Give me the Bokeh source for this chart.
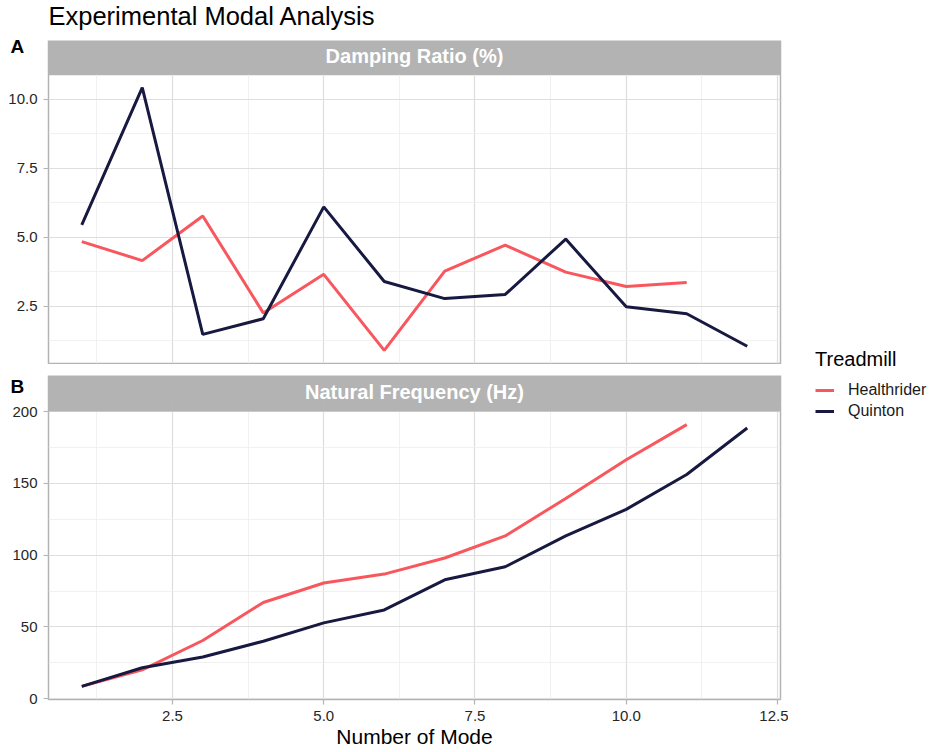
from bokeh.plotting import figure
from bokeh.models import Range1d, FixedTicker, PrintfTickFormatter, Legend, LegendItem
from bokeh.layouts import column, row
from bokeh.embed import file_html
from bokeh.resources import INLINE
from bokeh.core.properties import value

# ---------------- data ----------------
modes_healthrider = [1, 2, 3, 4, 5, 6, 7, 8, 9, 10, 11]
modes_quinton = [1, 2, 3, 4, 5, 6, 7, 8, 9, 10, 11, 12]
healthrider_damping = [4.84, 4.15, 5.77, 2.25, 3.65, 0.89, 3.77, 4.71, 3.73, 3.21, 3.35]
quinton_damping = [5.45, 10.43, 1.47, 2.04, 6.10, 3.39, 2.77, 2.92, 4.93, 2.47, 2.22, 1.04]
healthrider_freq = [8.5, 20.0, 40.5, 67.0, 80.6, 86.8, 98.0, 113.4, 139.5, 166.5, 191.0]
quinton_freq = [8.5, 21.5, 29.0, 40.0, 52.8, 61.8, 82.8, 91.9, 113.4, 131.9, 156.2, 188.6]
series_names = ["Healthrider", "Quinton"]
series_colors = ["#F8575D", "#171941"]
x_ticks = [2.5, 5.0, 7.5, 10.0, 12.5]
x_minor = [1.25, 3.75, 6.25, 8.75, 11.25]
damp_ticks = [2.5, 5.0, 7.5, 10.0]
damp_minor = [1.25, 3.75, 6.25, 8.75]
freq_ticks = [0, 50, 100, 150, 200]
freq_minor = [25, 75, 125, 175]

FONT = "Liberation Sans"
GRID = "#DEDEDE"
MINOR = "#EDEDED"
BORDER = "#B3B3B3"
TXT = "#262626"

LEFT_W = 788
FRAME_L = 48
FRAME_R = 8
FRAME_W = LEFT_W - FRAME_L - FRAME_R


def expand(vals):
    lo, hi = min(vals), max(vals)
    d = (hi - lo) * 0.05
    return lo - d, hi + d


x_lo, x_hi = expand(modes_healthrider + modes_quinton)
x_range = Range1d(x_lo, x_hi)


def no_align(fig):
    if "frame_align" in fig.properties():
        fig.frame_align = False


def header(height, strip_top, strip_text, strip_mid, tag, tag_mid, title=None):
    """Pixel-space header: panel tag, facet strip (and the page title)."""
    h = figure(width=LEFT_W, height=height, x_range=Range1d(0, LEFT_W), y_range=Range1d(height, 0),
               output_backend="svg", toolbar_location=None, min_border=0,
               x_axis_location=None, y_axis_location=None)
    no_align(h)
    h.grid.visible = False
    h.outline_line_color = None
    h.background_fill_color = "white"
    h.quad(left=[FRAME_L - 0.75], right=[LEFT_W - FRAME_R + 0.75], top=[strip_top],
           bottom=[height + 1], fill_color=BORDER, line_color=None)
    h.text(x=[FRAME_L + FRAME_W / 2], y=[strip_mid], text=[strip_text],
           text_font=value(FONT), text_font_size=value("20px"), text_font_style="bold",
           text_color="white", text_align="center", text_baseline="middle")
    h.text(x=[10], y=[tag_mid], text=[tag], text_font=value(FONT),
           text_font_size=value("19px"), text_font_style="bold", text_color="black",
           text_align="left", text_baseline="middle")
    if title:
        h.text(x=[FRAME_L], y=[title[1]], text=[title[0]], text_font=value(FONT),
               text_font_size=value("25.5px"), text_color="black", text_align="left",
               text_baseline="middle")
    return h


def panel(height, bottom_border, panel_px, strip_px, y_vals, ticks, minor, fmt, show_x):
    lo, hi = expand(y_vals)
    top = hi + strip_px * (hi - lo) / panel_px
    p = figure(width=LEFT_W, height=height, x_range=x_range, y_range=Range1d(lo, top),
               output_backend="svg", toolbar_location=None,
               x_axis_location="below" if show_x else None,
               min_border_left=FRAME_L, min_border_right=FRAME_R,
               min_border_top=0, min_border_bottom=bottom_border)
    p.background_fill_color = "white"
    p.border_fill_color = "white"
    p.outline_line_color = BORDER
    p.outline_line_width = 1.5
    p.xgrid.ticker = FixedTicker(ticks=x_ticks, minor_ticks=x_minor)
    p.ygrid.ticker = FixedTicker(ticks=ticks, minor_ticks=minor)
    p.yaxis.ticker = FixedTicker(ticks=ticks, minor_ticks=minor)
    p.yaxis.formatter = PrintfTickFormatter(format=fmt)
    if show_x:
        p.xaxis.ticker = FixedTicker(ticks=x_ticks, minor_ticks=x_minor)
        p.xaxis.formatter = PrintfTickFormatter(format="%.1f")
    for ax in p.axis:
        ax.axis_line_color = None
        ax.major_tick_line_color = BORDER
        ax.major_tick_line_width = 1.2
        ax.major_tick_out = 5
        ax.major_tick_in = 0
        ax.minor_tick_line_color = None
        ax.major_label_text_font = FONT
        ax.major_label_text_font_size = "15px"
        ax.major_label_text_color = TXT
    p.yaxis.major_label_standoff = 6
    for g in (p.xgrid, p.ygrid):
        g.grid_line_color = GRID
        g.grid_line_width = 1.2
        g.minor_grid_line_color = MINOR
        g.minor_grid_line_width = 0.8
    if strip_px > 0:
        p.quad(left=[x_lo], right=[x_hi], bottom=[hi], top=[top], fill_color=BORDER, line_color=None)
    return p


# header A: canvas 0..74 (title, tag A, strip 40..74)
h1 = header(74, 40, "Damping Ratio (%)", 55.3, "A", 45.8, title=("Experimental Modal Analysis", 15.3))
# top panel: canvas 74..364, frame 74..363
f1 = panel(290, 1, 289, 0, healthrider_damping + quinton_damping,
           damp_ticks, damp_minor, "%.1f", False)
f1.line(modes_healthrider, healthrider_damping, line_color=series_colors[0], line_width=3)
f1.line(modes_quinton, quinton_damping, line_color=series_colors[1], line_width=3)

# header B: canvas 364..403 (tag B, strip 375..403)
h2 = header(39, 11, "Natural Frequency (Hz)", 27.5, "B", 22)
# bottom panel: canvas 403..752, frame 403..699 (strip rest 403..411, data 411..699)
f2 = panel(349, 53, 288, 8, healthrider_freq + quinton_freq,
           freq_ticks, freq_minor, "%d", True)
f2.line(modes_healthrider, healthrider_freq, line_color=series_colors[0], line_width=3)
f2.line(modes_quinton, quinton_freq, line_color=series_colors[1], line_width=3)
f2.xaxis.axis_label = "Number of Mode"
f2.xaxis.axis_label_text_font = FONT
f2.xaxis.axis_label_text_font_size = "21px"
f2.xaxis.axis_label_text_font_style = "normal"
f2.xaxis.axis_label_text_color = "black"
f2.xaxis.axis_label_standoff = 1
f2.xaxis.major_label_standoff = 6

# legend column
lf = figure(width=935 - LEFT_W, height=752, x_range=Range1d(-2, -1), y_range=Range1d(-2, -1),
            output_backend="svg", toolbar_location=None, min_border=0,
            x_axis_location=None, y_axis_location=None)
no_align(lf)
lf.grid.visible = False
lf.outline_line_color = None
r1 = lf.line(modes_healthrider, healthrider_freq, line_color=series_colors[0], line_width=3)
r2 = lf.line(modes_quinton, quinton_freq, line_color=series_colors[1], line_width=3)
items = [LegendItem(label=series_names[0], renderers=[r1]),
         LegendItem(label=series_names[1], renderers=[r2])]
leg = Legend(items=items, location=(27, 331), title="Treadmill",
             title_text_font=FONT, title_text_font_size="20px", title_text_font_style="normal",
             title_text_color="black",
             title_standoff=9, label_text_font=FONT, label_text_font_size="16px",
             label_text_color="#1A1A1A",
             glyph_width=19, glyph_height=20, label_height=20, label_standoff=14,
             spacing=1, padding=0, margin=0, border_line_color=None, background_fill_alpha=0)
lf.add_layout(leg)

layout = row(column(h1, f1, h2, f2), lf)
open("out.html", "w").write(file_html(layout, INLINE))
